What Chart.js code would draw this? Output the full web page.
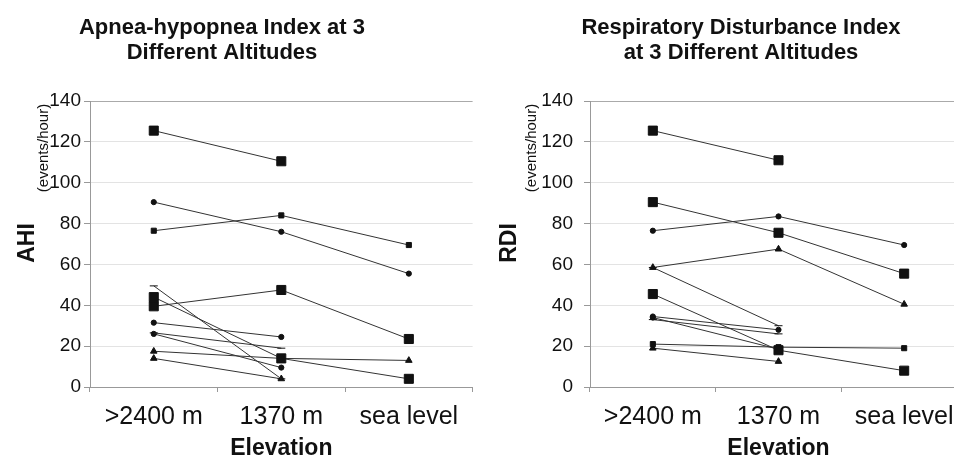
<!DOCTYPE html>
<html>
<head>
<meta charset="utf-8">
<script src="https://cdn.jsdelivr.net/npm/chart.js@4"></script>
<style>
  html, body { margin: 0; padding: 0; background: #fff; overflow: hidden; width: 954px; height: 462px; }
  #ahi { position: absolute; left: 0; top: 0; }
  #rdi { position: absolute; left: 480px; top: 0; }
</style>
</head>
<body>
<canvas id="ahi" width="480" height="462"></canvas>
<canvas id="rdi" width="500" height="462"></canvas>
<script>
// categories
const elevations = [">2400 m", "1370 m", "sea level"];

// AHI (events/hour), one array per subject
const ahiA = [125.5, 110.5, null];
const ahiB = [90.5, 76, 55.5];
const ahiC = [76.5, 84, 69.5];
const ahiD = [39.5, 47.5, 23.5];
const ahiE = [44, 14, 4];
const ahiF = [49.5, 4, null];
const ahiG = [31.5, 24.5, null];
const ahiH = [26.5, 19, null];
const ahiI = [26, 9.5, null];
const ahiJ = [17.5, 14, 13];
const ahiK = [14, 4, null];

// RDI (events/hour), one array per subject
const rdiA = [125.5, 111, null];
const rdiB = [90.5, 75.5, 55.5];
const rdiC = [76.5, 83.5, 69.5];
const rdiD = [58.5, 67.5, 40.5];
const rdiE = [58.5, 30, null];
const rdiF = [45.5, 18, 8];
const rdiG = [34.5, 28, null];
const rdiH = [33, 26, null];
const rdiI = [34, 18.5, null];
const rdiJ = [21, 19.5, 19];
const rdiK = [19, 12.5, null];

const ahiData = [ahiA, ahiB, ahiC, ahiD, ahiE, ahiF, ahiG, ahiH, ahiI, ahiJ, ahiK];
const rdiData = [rdiA, rdiB, rdiC, rdiD, rdiE, rdiF, rdiG, rdiH, rdiI, rdiJ, rdiK];

// marker per subject line
const ahiMarkers = ["bigSquare", "dot", "square", "bigSquare", "bigSquare", "dash", "dot", "dash", "dot", "triangle", "triangle"];
const rdiMarkers = ["bigSquare", "bigSquare", "dot", "triangle", "dash", "bigSquare", "dot", "dash", "dot", "square", "triangle"];

const FONT = "'Liberation Sans', Arial, Helvetica, sans-serif";
const INK = "#111";

const markerStyles = {
  bigSquare: { pointStyle: "rect", radius: 6.4 },
  square: { pointStyle: "rect", radius: 3.6 },
  dot: { pointStyle: "circle", radius: 2.6 },
  triangle: { pointStyle: "triangle", radius: 3.8 },
  dash: { pointStyle: "line", radius: 4 },
};

// titles and the two-part y label are drawn here
const panelText = {
  id: "panelText",
  afterDraw(chart, args, opts) {
    const ctx = chart.ctx;
    ctx.save();
    ctx.fillStyle = INK;
    ctx.textAlign = "center";
    ctx.textBaseline = "middle";
    ctx.font = "bold 22px " + FONT;
    opts.title.forEach((line, i) => ctx.fillText(line, opts.titleX, 28 + i * 25));

    ctx.save();
    ctx.translate(opts.nameX, opts.nameY);
    ctx.rotate(-Math.PI / 2);
    ctx.font = "bold 23px " + FONT;
    ctx.fillText(opts.name, 0, 0);
    ctx.restore();

    ctx.save();
    ctx.translate(opts.unitX, opts.unitY);
    ctx.rotate(-Math.PI / 2);
    ctx.font = "15px " + FONT;
    ctx.fillText("(events/hour)", 0, 0);
    ctx.restore();

    ctx.restore();
  },
};

function makeDatasets(series, markers) {
  return series.map((values, i) => {
    const m = markerStyles[markers[i]];
    return {
      data: values,
      borderColor: "#333",
      borderWidth: 1,
      backgroundColor: INK,
      pointStyle: m.pointStyle,
      pointRadius: m.radius,
      pointBackgroundColor: INK,
      pointBorderColor: INK,
      pointBorderWidth: 1,
      spanGaps: false,
    };
  });
}

function makeChart(id, series, markers, layout, text) {
  return new Chart(document.getElementById(id), {
    type: "line",
    data: {
      labels: elevations,
      datasets: makeDatasets(series, markers),
    },
    options: {
      responsive: false,
      animation: false,
      layout: { padding: { top: 101, right: layout.right, left: 0, bottom: 0 } },
      plugins: {
        legend: { display: false },
        tooltip: { enabled: false },
        panelText: text,
      },
      scales: {
        x: {
          offset: true,
          grid: {
            offset: true,
            drawTicks: true,
            tickLength: 5,
            color: (c) => (c.index === elevations.length ? "#aaa" : "rgba(0,0,0,0)"),
            tickColor: "#999",
          },
          border: { color: "#999", width: 1 },
          ticks: { font: { family: FONT, size: 25 }, color: INK, padding: 10, maxRotation: 0 },
          title: {
            display: true,
            text: "Elevation",
            font: { family: FONT, size: 23, weight: "bold" },
            color: INK,
            padding: { top: 0, bottom: 0 },
          },
          afterFit: (s) => { s.height = 75; },
        },
        y: {
          min: 0,
          max: 140,
          ticks: { stepSize: 20, font: { family: FONT, size: 19 }, color: INK, padding: layout.tickPad },
          grid: {
            color: (c) => (c.tick && c.tick.value === 140 ? "#aaa" : "#e3e3e3"),
            tickColor: "#999",
            tickLength: 6,
          },
          border: { color: "#999", width: 1 },
          afterFit: (s) => { s.width = layout.axisWidth; },
        },
      },
    },
    plugins: [panelText],
  });
}

makeChart("ahi", ahiData, ahiMarkers, { right: 7, axisWidth: 90, tickPad: 3 }, {
  title: ["Apnea-hypopnea Index at 3", "Different Altitudes"],
  titleX: 222,
  name: "AHI",
  nameX: 28,
  nameY: 243,
  unitX: 44,
  unitY: 148,
});

makeChart("rdi", rdiData, rdiMarkers, { right: 13, axisWidth: 110, tickPad: 11 }, {
  title: ["Respiratory Disturbance Index", "at 3 Different Altitudes"],
  titleX: 261,
  name: "RDI",
  nameX: 30,
  nameY: 243,
  unitX: 52,
  unitY: 148,
});
</script>
</body>
</html>
